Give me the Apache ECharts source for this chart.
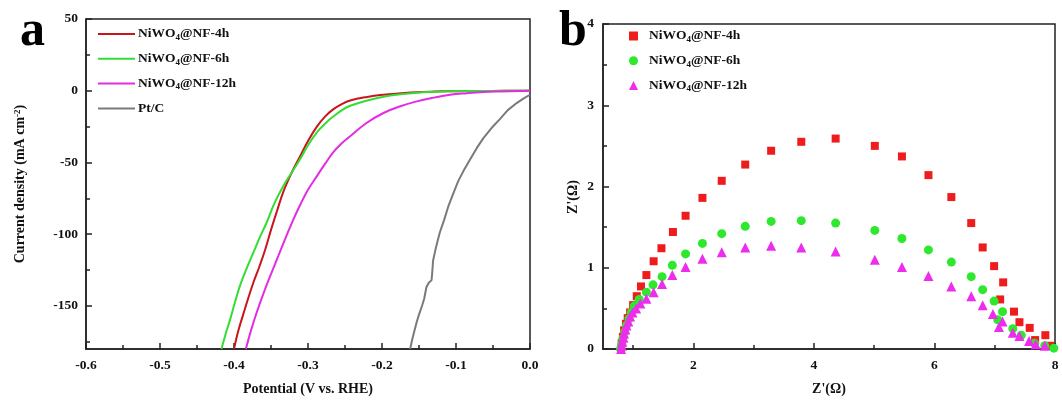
<!DOCTYPE html>
<html><head><meta charset="utf-8">
<script src="https://cdn.jsdelivr.net/npm/echarts@6/dist/echarts.min.js"></script>
<style>html,body{margin:0;padding:0;background:#fff}#c{width:1062px;height:401px}</style>
</head><body><div id="c"></div>
<script>
// ---- Panel a: LSV curves (Potential V vs RHE, current density mA cm-2)
const lsvV_4h = [0,-0.05,-0.10,-0.13,-0.153,-0.175,-0.198,-0.22,-0.243,-0.255,-0.266,-0.277,-0.288,-0.30,-0.311,-0.322,-0.333,-0.342,-0.350,-0.358,-0.366,-0.374,-0.381,-0.387,-0.394,-0.400];
const lsvJ_4h = [0,-0.1,-0.3,-0.6,-1.0,-1.8,-2.8,-4.3,-6.8,-9.5,-13,-18,-25,-35,-46,-57,-70,-84,-97,-111,-123,-134,-145,-155,-167,-180];
const lsvV_6h = [0,-0.05,-0.108,-0.13,-0.153,-0.175,-0.198,-0.22,-0.243,-0.255,-0.266,-0.277,-0.288,-0.30,-0.311,-0.322,-0.333,-0.345,-0.356,-0.365,-0.374,-0.383,-0.392,-0.399,-0.405,-0.411,-0.417];
const lsvJ_6h = [0,-0.1,-0.4,-0.8,-1.4,-2.5,-4.2,-6.8,-10.5,-13.8,-18,-23,-29,-38,-48,-57,-66,-78,-92,-102,-113,-124,-136,-148,-159,-169,-180];
const lsvV_12h = [0,-0.04,-0.063,-0.085,-0.108,-0.13,-0.153,-0.175,-0.198,-0.221,-0.243,-0.255,-0.266,-0.277,-0.288,-0.30,-0.311,-0.320,-0.329,-0.340,-0.351,-0.360,-0.369,-0.377,-0.384];
const lsvJ_12h = [0,-0.5,-0.9,-1.7,-2.8,-4.8,-7.4,-10.8,-15.5,-22.5,-31.7,-37,-43,-51,-59.5,-69,-80,-90,-101,-115,-129,-141,-154,-167,-180];
const lsvV_PtC = [0,-0.009,-0.018,-0.03,-0.041,-0.052,-0.063,-0.072,-0.081,-0.090,-0.097,-0.104,-0.110,-0.116,-0.122,-0.127,-0.131,-0.132,-0.133,-0.137,-0.140,-0.143,-0.146,-0.150,-0.153,-0.156,-0.159,-0.162];
const lsvJ_PtC = [-2.8,-5.5,-8.6,-13.5,-20,-26,-33,-40,-48,-56,-63,-72,-80,-90,-99,-109,-118.5,-126,-132,-134,-137,-145,-150,-156,-161,-167,-173,-180];
const lsvNames = ['NiWO4@NF-4h','NiWO4@NF-6h','NiWO4@NF-12h','Pt/C'];
const lsvXTicks = [-0.6,-0.5,-0.4,-0.3,-0.2,-0.1,0.0];
const lsvYLabels = [50,0,-50,-100,-150];
const lsvYMinor = [25,-25,-75,-125,-175];

// ---- Panel b: Nyquist plots (Z' vs Z'')
const eisX_4h = [0.80,0.81,0.83,0.85,0.88,0.91,0.95,1.00,1.06,1.13,1.22,1.34,1.47,1.66,1.87,2.15,2.47,2.86,3.29,3.79,4.36,5.01,5.46,5.90,6.28,6.61,6.80,6.99,7.14,7.09,7.32,7.41,7.58,7.67,7.84,7.92];
const eisY_4h = [0.00,0.07,0.15,0.23,0.31,0.38,0.45,0.54,0.65,0.77,0.91,1.08,1.24,1.44,1.64,1.86,2.07,2.27,2.44,2.55,2.59,2.50,2.37,2.14,1.87,1.55,1.25,1.02,0.82,0.61,0.46,0.33,0.26,0.11,0.17,0.04];
const eisX_6h = [0.79,0.81,0.83,0.86,0.89,0.93,0.97,1.02,1.10,1.22,1.33,1.48,1.65,1.87,2.15,2.47,2.86,3.29,3.79,4.36,5.01,5.46,5.90,6.28,6.61,6.80,6.99,7.13,7.05,7.30,7.44,7.66,7.83,7.98];
const eisY_6h = [0.00,0.06,0.13,0.21,0.29,0.37,0.45,0.53,0.61,0.70,0.79,0.89,1.03,1.17,1.30,1.42,1.51,1.57,1.58,1.55,1.46,1.36,1.22,1.07,0.89,0.73,0.59,0.46,0.36,0.25,0.17,0.07,0.04,0.01];
const eisX_12h = [0.80,0.81,0.82,0.84,0.85,0.87,0.89,0.92,0.95,0.99,1.05,1.12,1.22,1.34,1.48,1.65,1.87,2.15,2.47,2.86,3.29,3.79,4.36,5.01,5.46,5.90,6.28,6.61,6.80,6.97,7.13,7.07,7.30,7.41,7.57,7.68,7.83];
const eisY_12h = [0.00,0.04,0.09,0.14,0.19,0.24,0.29,0.34,0.40,0.45,0.50,0.56,0.62,0.70,0.80,0.91,1.01,1.11,1.19,1.25,1.27,1.25,1.20,1.10,1.01,0.90,0.77,0.65,0.54,0.43,0.34,0.27,0.20,0.16,0.10,0.06,0.04];
const eisNames = ['NiWO4@NF-4h ','NiWO4@NF-6h ','NiWO4@NF-12h '];
const eisXLabels = [2,4,6,8];
const eisXMinor = [1,3,5,7];
const eisYTicks = [0,1,2,3,4];

const zip = (a,b) => a.map((v,i)=>[v,b[i]]);
const FONT = 'Liberation Serif';
const AX = '#222';
const lbl = {fontFamily:FONT, fontWeight:'bold', fontSize:13.5, color:'#111'};
const richSub = {
  sub:{fontFamily:FONT, fontWeight:'bold', fontSize:9, color:'#111', verticalAlign:'bottom', padding:[7,0,0,0]},
  sup:{fontFamily:FONT, fontWeight:'bold', fontSize:9, color:'#111', verticalAlign:'top', padding:[0,0,6,0]}
};
const subFmt = n => n.replace('NiWO4','NiWO{sub|4}');

const chart = echarts.init(document.getElementById('c'), null, {renderer:'canvas'});
const lineColors = ['#c8161d','#33dd33','#e22de2','#7a7a7a'];
const dotColors = ['#ee1c1c','#2ee82e','#ee2cee'];

chart.setOption({
  animation:false,
  backgroundColor:'#fff',
  graphic:[
    {type:'text', left:20, top:7, style:{text:'a', font:'bold 50px "Liberation Serif"', fill:'#000'}},
    {type:'text', left:559, top:7, style:{text:'b', font:'bold 50px "Liberation Serif"', fill:'#000'}},
    {type:'text', x:573, y:197, rotation:Math.PI/2, style:{text:"Z'(\u03A9)", font:'bold 14px "Liberation Serif"', fill:'#111', align:'center', verticalAlign:'middle'}}
  ],
  grid:[
    {left:86, right:532, top:19, bottom:52, show:true, borderColor:AX, borderWidth:1.5, backgroundColor:'transparent'},
    {left:603, right:7, top:24, bottom:51, show:true, borderColor:AX, borderWidth:1.5, backgroundColor:'transparent'}
  ],
  legend:[
    {orient:'vertical', left:93, top:22, itemWidth:37, itemHeight:2, itemGap:9.8,
     data:lsvNames.map(n=>({name:n, icon:'rect'})), formatter:subFmt,
     textStyle:Object.assign({}, lbl, {rich:richSub, padding:[0,0,0,-2]}), selectedMode:false},
    {orient:'vertical', left:624, top:24, itemWidth:9, itemHeight:9, itemGap:9.8,
     data:[{name:eisNames[0], icon:'rect'},{name:eisNames[1], icon:'circle'},{name:eisNames[2], icon:'triangle'}],
     formatter:subFmt, textStyle:Object.assign({}, lbl, {rich:richSub, padding:[0,0,0,6]}), selectedMode:false}
  ],
  xAxis:[
    {gridIndex:0, type:'value', min:-0.6, max:0, interval:0.1,
     name:'Potential (V vs. RHE)', nameLocation:'middle', nameGap:33,
     nameTextStyle:Object.assign({}, lbl, {fontSize:14}),
     axisLine:{onZero:false, lineStyle:{color:AX, width:1.5}},
     axisTick:{inside:true, length:6, lineStyle:{color:AX, width:1.5}},
     minorTick:{show:true, splitNumber:2, length:4, lineStyle:{color:AX, width:1.5}},
     splitLine:{show:false},
     axisLabel:Object.assign({}, lbl, {margin:10, formatter:v=>v.toFixed(1)})},
    {gridIndex:1, type:'value', min:0.5, max:8,
     name:"Z'(\u03A9)", nameLocation:'middle', nameGap:33,
     nameTextStyle:Object.assign({}, lbl, {fontSize:14}),
     axisLine:{onZero:false, lineStyle:{color:AX, width:1.5}},
     axisTick:{inside:true, length:6, customValues:eisXLabels, lineStyle:{color:AX, width:1.5}},
     splitLine:{show:false},
     axisLabel:Object.assign({}, lbl, {margin:10, customValues:eisXLabels})},
    {gridIndex:1, type:'value', min:0.5, max:8, position:'bottom',
     axisLine:{show:false, onZero:false},
     axisTick:{inside:true, length:4, customValues:eisXMinor, lineStyle:{color:AX, width:1.5}},
     axisLabel:{show:false}, splitLine:{show:false}}
  ],
  yAxis:[
    {gridIndex:0, type:'value', min:-180, max:50,
     name:'Current density (mA cm{sup|-2})', nameLocation:'middle', nameGap:58, nameRotate:90,
     nameTextStyle:Object.assign({}, lbl, {fontSize:14, rich:richSub}),
     axisLine:{onZero:false, lineStyle:{color:AX, width:1.5}},
     axisTick:{inside:true, length:6, customValues:lsvYLabels, lineStyle:{color:AX, width:1.5}},
     splitLine:{show:false},
     axisLabel:Object.assign({}, lbl, {margin:8, customValues:lsvYLabels})},
    {gridIndex:0, type:'value', min:-180, max:50, position:'left',
     axisLine:{show:false, onZero:false},
     axisTick:{inside:true, length:4, customValues:lsvYMinor, lineStyle:{color:AX, width:1.5}},
     axisLabel:{show:false}, splitLine:{show:false}},
    {gridIndex:1, type:'value', min:0, max:4, interval:1,
     axisLine:{onZero:false, lineStyle:{color:AX, width:1.5}},
     axisTick:{inside:true, length:6, lineStyle:{color:AX, width:1.5}},
     minorTick:{show:true, splitNumber:2, length:4, lineStyle:{color:AX, width:1.5}},
     splitLine:{show:false},
     axisLabel:Object.assign({}, lbl, {margin:9})}
  ],
  series:[
    {name:lsvNames[0], type:'line', xAxisIndex:0, yAxisIndex:0, data:zip(lsvV_4h,lsvJ_4h), symbol:'none', smooth:0.4, lineStyle:{width:2, color:lineColors[0]}, itemStyle:{color:lineColors[0]}},
    {name:lsvNames[1], type:'line', xAxisIndex:0, yAxisIndex:0, data:zip(lsvV_6h,lsvJ_6h), symbol:'none', smooth:0.4, lineStyle:{width:2, color:lineColors[1]}, itemStyle:{color:lineColors[1]}},
    {name:lsvNames[2], type:'line', xAxisIndex:0, yAxisIndex:0, data:zip(lsvV_12h,lsvJ_12h), symbol:'none', smooth:0.4, lineStyle:{width:2, color:lineColors[2]}, itemStyle:{color:lineColors[2]}},
    {name:lsvNames[3], type:'line', xAxisIndex:0, yAxisIndex:0, data:zip(lsvV_PtC,lsvJ_PtC), symbol:'none', lineStyle:{width:2, color:lineColors[3]}, itemStyle:{color:lineColors[3]}},
    {name:eisNames[0], type:'scatter', xAxisIndex:1, yAxisIndex:2, data:zip(eisX_4h,eisY_4h), symbol:'rect', symbolSize:8, itemStyle:{color:dotColors[0], opacity:1}},
    {name:eisNames[1], type:'scatter', xAxisIndex:1, yAxisIndex:2, data:zip(eisX_6h,eisY_6h), symbol:'circle', symbolSize:9, itemStyle:{color:dotColors[1], opacity:1}},
    {name:eisNames[2], type:'scatter', xAxisIndex:1, yAxisIndex:2, data:zip(eisX_12h,eisY_12h), symbol:'triangle', symbolSize:10, itemStyle:{color:dotColors[2], opacity:1}}
  ]
});
</script></body></html>
